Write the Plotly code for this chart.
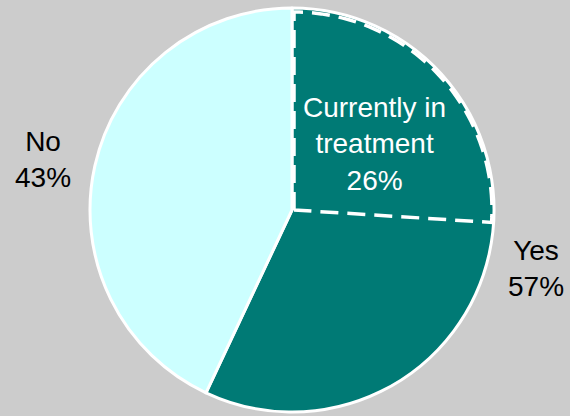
import numpy as np
import plotly.graph_objects as go

labels = ["Yes", "No"]
values = [57, 43]
sub_label = "Currently in<br>treatment"
sub_value = 26

TEAL = "#007A75"
CYAN = "#CCFFFF"
BG = "#CCCCCC"
W, H = 570, 416
cx, cy, r = 292, 210, 202
dom_x = [(cx - r) / W, (cx + r) / W]
dom_y = [(H - cy - r) / H, (H - cy + r) / H]

fig = go.Figure()
fig.add_trace(go.Pie(
    labels=labels, values=values, sort=False, direction="clockwise", rotation=0,
    marker=dict(colors=[TEAL, CYAN], line=dict(color="white", width=3)),
    textinfo="none", hoverinfo="label+percent", showlegend=False,
    domain=dict(x=dom_x, y=dom_y),
))

# dashed outline of the sub-wedge (angles derived from its share)
end = np.deg2rad(360 * sub_value / 100)
rho = r - 4
def pt(a, rad):
    return (cx + 2 + rad * np.sin(a)) / W, (H - cy + rad * np.cos(a)) / H
pts = [pt(0, 0)] + [pt(a, rho) for a in np.linspace(0, end, 60)] + [pt(end, 0)]
path = "M " + " L ".join(f"{x:.5f},{y:.5f}" for x, y in pts)
fig.add_shape(type="path", path=path, xref="paper", yref="paper",
              line=dict(color="white", width=3.5, dash="18px,9px"), layer="above")

font = dict(family="Liberation Sans, Arial, sans-serif", size=28)
def note(x, y, text, color):
    fig.add_annotation(x=x / W, y=1 - y / H, xref="paper", yref="paper",
                       xanchor="center", yanchor="middle", text=text,
                       showarrow=False, font=dict(color=color, **font), align="center")
note(374, 144, f"{sub_label}<br>{sub_value}%", "white")
note(43, 159, f"{labels[1]}<br>{values[1]}%", "black")
note(536, 268, f"{labels[0]}<br>{values[0]}%", "black")

fig.update_layout(
    width=W, height=H, margin=dict(l=0, r=0, t=0, b=0),
    paper_bgcolor=BG, plot_bgcolor=BG,
)
fig.write_html("out.html")
